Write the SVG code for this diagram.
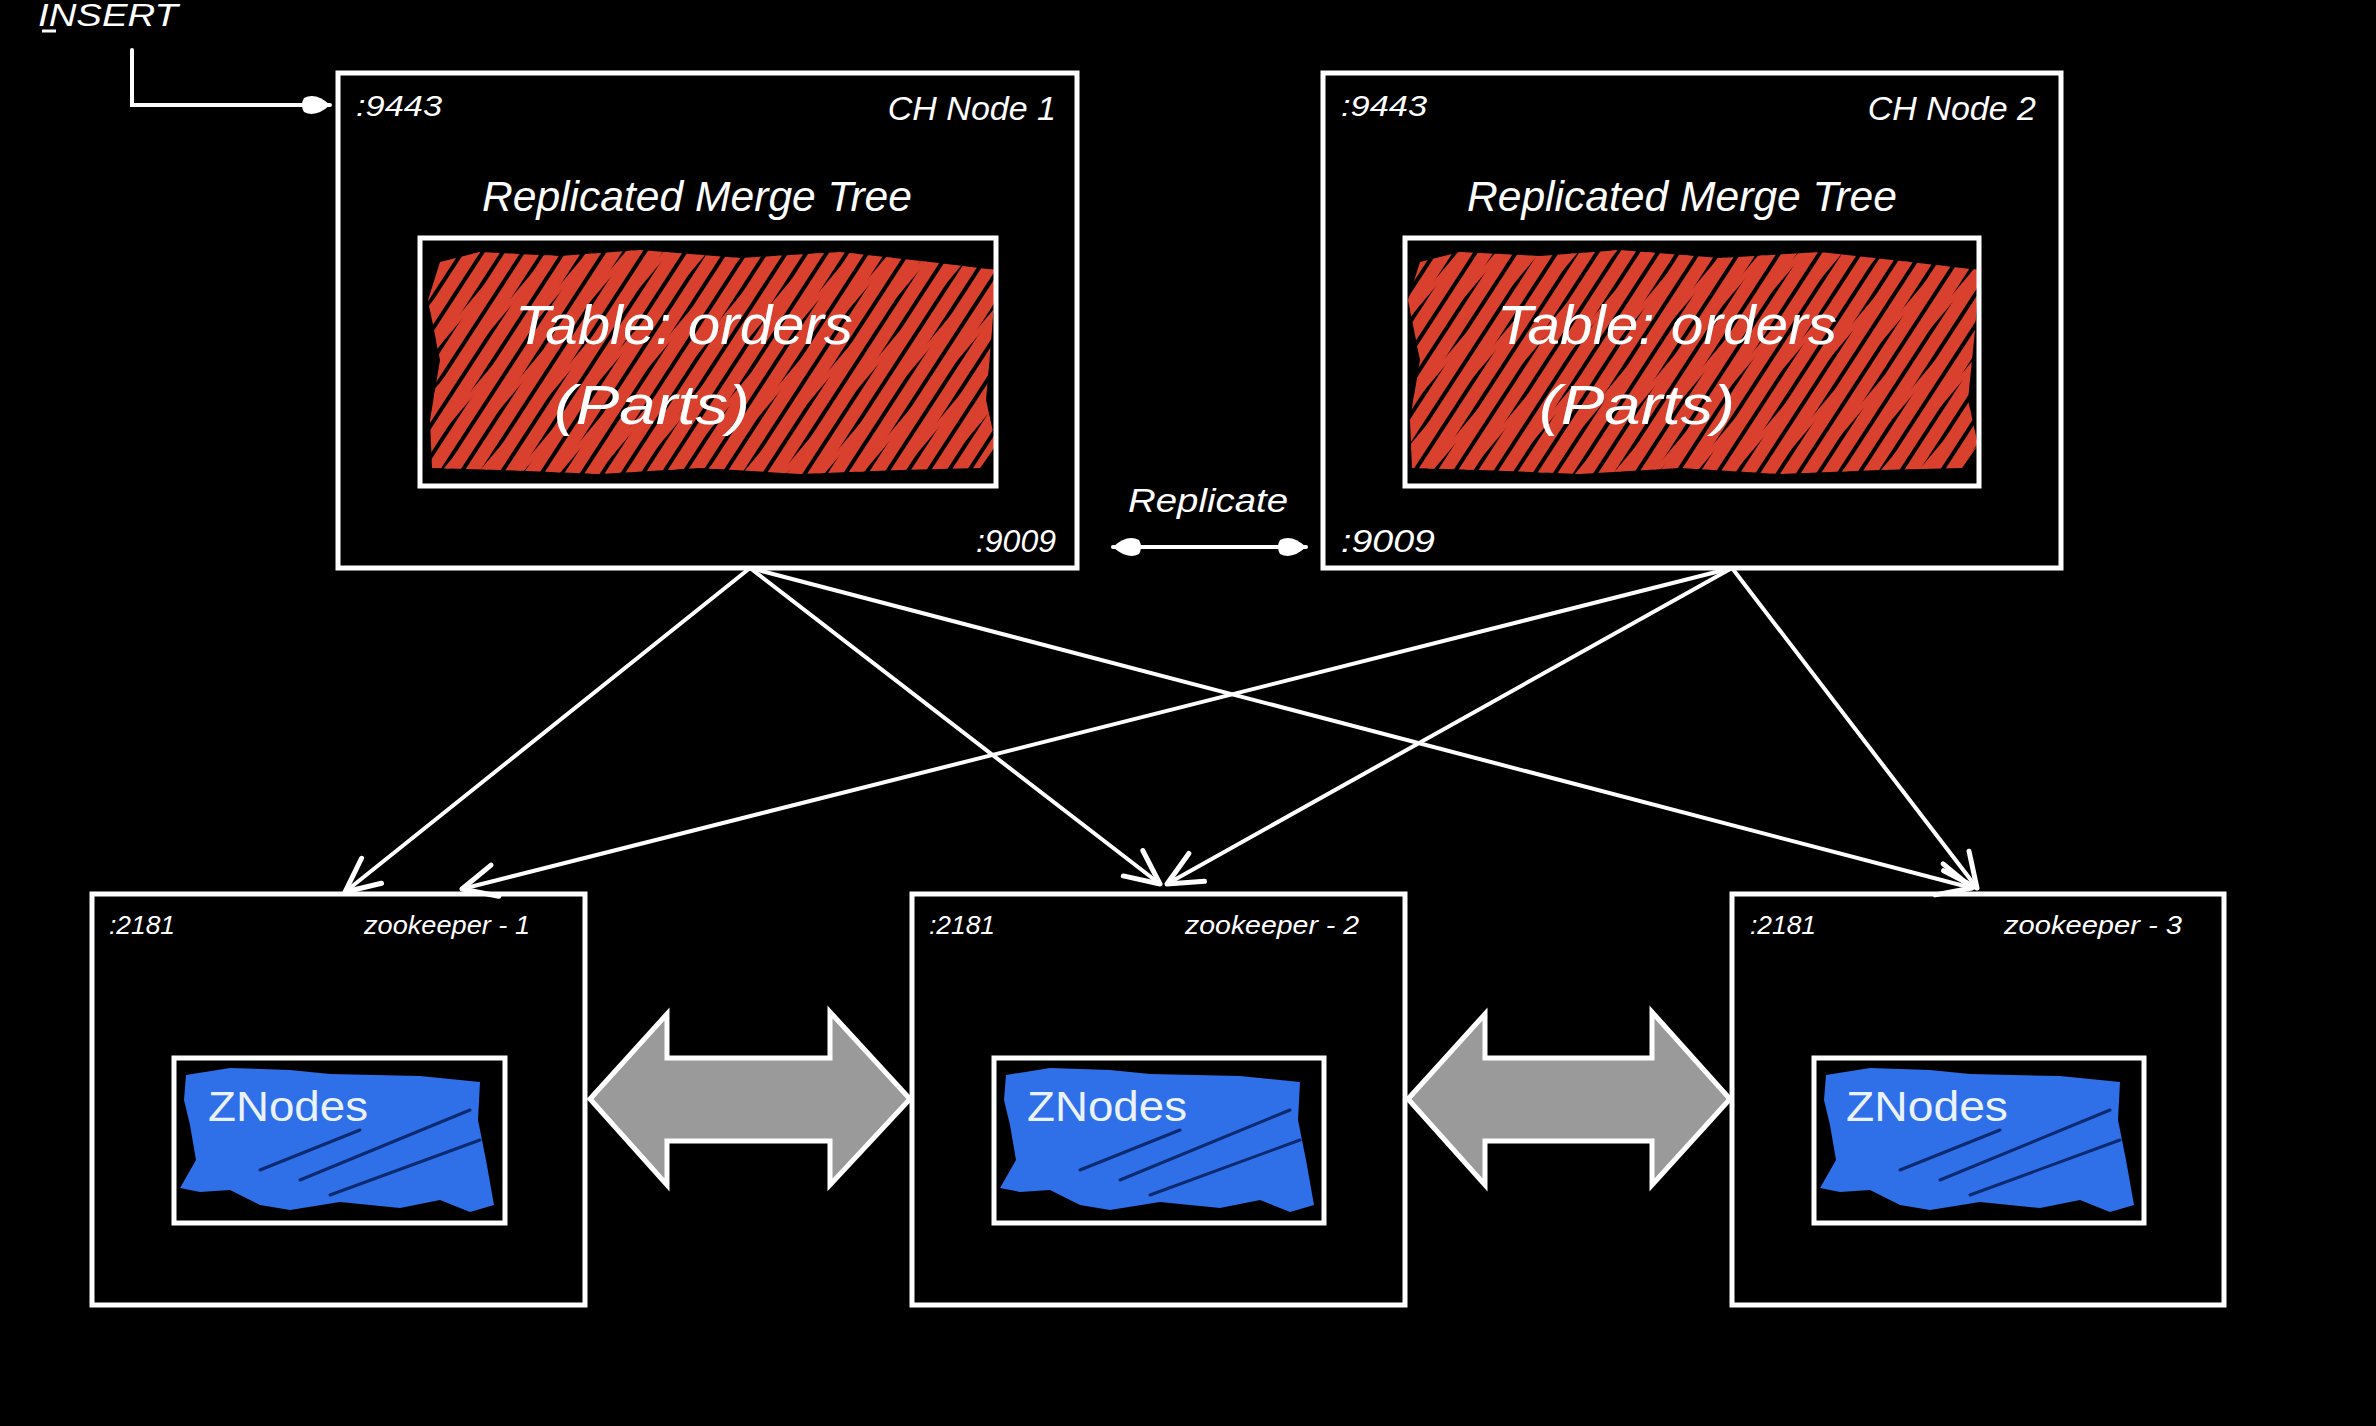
<svg xmlns="http://www.w3.org/2000/svg" width="2376" height="1426" viewBox="0 0 2376 1426">
<defs>
<style>
.box{fill:none;stroke:#fff;stroke-width:5}
.t{fill:#fff;font-family:"Liberation Sans",Arial,sans-serif;font-style:italic}
.zn{fill:#eaf2ff;font-family:"Liberation Sans",Arial,sans-serif;font-style:normal}
.conn{fill:none;stroke:#fff;stroke-width:4;stroke-linecap:round}
.big{fill:#9a9a9a;stroke:#fff;stroke-width:5;stroke-linejoin:miter}
.blue{fill:#2f6fe8}
.bl{stroke:#0d2a70;stroke-width:3;fill:none;stroke-linecap:round}
</style>
<pattern id="hatch" width="17" height="17" patternUnits="userSpaceOnUse" patternTransform="rotate(33)">
<rect width="17" height="17" fill="#000"/>
<rect x="0" y="0" width="13" height="17" fill="#d9402d"/>
</pattern>
<pattern id="hatch2" width="29" height="29" patternUnits="userSpaceOnUse" patternTransform="rotate(40)">
<rect x="3" y="0" width="5" height="29" fill="#d9402d"/>
</pattern>
<marker id="chev" markerWidth="44" markerHeight="44" refX="40" refY="22" orient="auto" markerUnits="userSpaceOnUse">
<path d="M6,6 L40,22 L6,38" fill="none" stroke="#fff" stroke-width="5" stroke-linecap="round" stroke-linejoin="round"/>
</marker>
<marker id="blob" markerWidth="36" markerHeight="30" refX="30" refY="15" orient="auto" markerUnits="userSpaceOnUse">
<path d="M4,8 Q16,2 30,15 Q16,28 4,22 Q0,15 4,8 Z" fill="#fff"/>
</marker>
<marker id="blobS" markerWidth="36" markerHeight="30" refX="30" refY="15" orient="auto-start-reverse" markerUnits="userSpaceOnUse">
<path d="M4,8 Q16,2 30,15 Q16,28 4,22 Q0,15 4,8 Z" fill="#fff"/>
</marker>
</defs>
<rect width="2376" height="1426" fill="#000"/>

<g id="insert">
<text class="t" x="38" y="26" font-size="32" textLength="140" lengthAdjust="spacingAndGlyphs">INSERT</text>
<line x1="42" y1="31" x2="56" y2="31" stroke="#fff" stroke-width="3"/>
</g>

<g id="ch-node-1">
<rect class="box" x="338" y="73" width="739" height="495"/>
<text class="t" x="356" y="116" font-size="30" textLength="86" lengthAdjust="spacingAndGlyphs">:9443</text>
<text class="t" x="1056" y="120" font-size="34" text-anchor="end">CH Node 1</text>
<text class="t" x="697" y="211" font-size="42" text-anchor="middle" textLength="430" lengthAdjust="spacingAndGlyphs">Replicated Merge Tree</text>
<polygon points="440,262 480,252 560,256 640,250 740,258 840,252 930,262 996,270 992,330 986,400 996,445 980,468 900,470 800,474 700,468 600,474 500,470 432,468 430,420 440,360 428,300" fill="url(#hatch)"/>
<polygon points="440,262 480,252 560,256 640,250 740,258 840,252 930,262 996,270 992,330 986,400 996,445 980,468 900,470 800,474 700,468 600,474 500,470 432,468 430,420 440,360 428,300" fill="url(#hatch2)"/>
<rect class="box" x="420" y="238" width="576" height="248"/>
<text class="t" x="684" y="344" font-size="56" text-anchor="middle" textLength="338" lengthAdjust="spacingAndGlyphs">Table: orders</text>
<text class="t" x="652" y="424" font-size="56" text-anchor="middle" textLength="196" lengthAdjust="spacingAndGlyphs">(Parts)</text>
<text class="t" x="1056" y="552" font-size="32" text-anchor="end">:9009</text>
</g>

<g id="ch-node-2">
<rect class="box" x="1323" y="73" width="738" height="495"/>
<text class="t" x="1341" y="116" font-size="30" textLength="86" lengthAdjust="spacingAndGlyphs">:9443</text>
<text class="t" x="2036" y="120" font-size="34" text-anchor="end">CH Node 2</text>
<text class="t" x="1682" y="211" font-size="42" text-anchor="middle" textLength="430" lengthAdjust="spacingAndGlyphs">Replicated Merge Tree</text>
<polygon points="1420,262 1460,252 1540,256 1620,250 1720,258 1820,252 1910,262 1979,270 1975,330 1968,400 1978,445 1962,468 1880,470 1780,474 1680,468 1580,474 1480,470 1412,468 1410,420 1420,360 1408,300" fill="url(#hatch)"/>
<polygon points="1420,262 1460,252 1540,256 1620,250 1720,258 1820,252 1910,262 1979,270 1975,330 1968,400 1978,445 1962,468 1880,470 1780,474 1680,468 1580,474 1480,470 1412,468 1410,420 1420,360 1408,300" fill="url(#hatch2)"/>
<rect class="box" x="1405" y="238" width="574" height="248"/>
<text class="t" x="1667" y="344" font-size="56" text-anchor="middle" textLength="340" lengthAdjust="spacingAndGlyphs">Table: orders</text>
<text class="t" x="1637" y="424" font-size="56" text-anchor="middle" textLength="196" lengthAdjust="spacingAndGlyphs">(Parts)</text>
<text class="t" x="1341" y="552" font-size="32" textLength="94" lengthAdjust="spacingAndGlyphs">:9009</text>
</g>

<g id="zookeeper-1">
<rect class="box" x="92" y="894" width="493" height="411"/>
<text class="t" x="109" y="934" font-size="26" textLength="66" lengthAdjust="spacingAndGlyphs">:2181</text>
<text class="t" x="530" y="934" font-size="26" text-anchor="end" textLength="166" lengthAdjust="spacingAndGlyphs">zookeeper - 1</text>
<polygon class="blue" points="186,1075 230,1068 290,1070 330,1074 420,1076 480,1082 478,1120 486,1160 494,1205 470,1212 440,1200 400,1208 340,1202 290,1210 260,1205 230,1190 200,1192 180,1188 196,1160 190,1125 184,1100"/>
<path class="bl" d="M300,1180 L470,1110 M330,1195 L480,1140 M260,1170 L360,1130"/>
<rect class="box" x="174" y="1058" width="331" height="165"/>
<text class="zn" x="288" y="1121" font-size="42" text-anchor="middle" textLength="160" lengthAdjust="spacingAndGlyphs">ZNodes</text>
</g>

<g id="zookeeper-2">
<rect class="box" x="912" y="894" width="493" height="411"/>
<text class="t" x="929" y="934" font-size="26" textLength="66" lengthAdjust="spacingAndGlyphs">:2181</text>
<text class="t" x="1359" y="934" font-size="26" text-anchor="end" textLength="174" lengthAdjust="spacingAndGlyphs">zookeeper - 2</text>
<polygon class="blue" points="1006,1075 1050,1068 1110,1070 1150,1074 1240,1076 1300,1082 1298,1120 1306,1160 1314,1205 1290,1212 1260,1200 1220,1208 1160,1202 1110,1210 1080,1205 1050,1190 1020,1192 1000,1188 1016,1160 1010,1125 1004,1100"/>
<path class="bl" d="M1120,1180 L1290,1110 M1150,1195 L1300,1140 M1080,1170 L1180,1130"/>
<rect class="box" x="994" y="1058" width="330" height="165"/>
<text class="zn" x="1107" y="1121" font-size="42" text-anchor="middle" textLength="160" lengthAdjust="spacingAndGlyphs">ZNodes</text>
</g>

<g id="zookeeper-3">
<rect class="box" x="1732" y="894" width="492" height="411"/>
<text class="t" x="1750" y="934" font-size="26" textLength="66" lengthAdjust="spacingAndGlyphs">:2181</text>
<text class="t" x="2182" y="934" font-size="26" text-anchor="end" textLength="178" lengthAdjust="spacingAndGlyphs">zookeeper - 3</text>
<polygon class="blue" points="1826,1075 1870,1068 1930,1070 1970,1074 2060,1076 2120,1082 2118,1120 2126,1160 2134,1205 2110,1212 2080,1200 2040,1208 1980,1202 1930,1210 1900,1205 1870,1190 1840,1192 1820,1188 1836,1160 1830,1125 1824,1100"/>
<path class="bl" d="M1940,1180 L2110,1110 M1970,1195 L2120,1140 M1900,1170 L2000,1130"/>
<rect class="box" x="1814" y="1058" width="330" height="165"/>
<text class="zn" x="1927" y="1121" font-size="42" text-anchor="middle" textLength="162" lengthAdjust="spacingAndGlyphs">ZNodes</text>
</g>

<g id="connectors">
<path class="conn" d="M132,50 L132,105 L330,105" marker-end="url(#blob)"/>
<line class="conn" x1="1113" y1="547" x2="1306" y2="547" marker-start="url(#blobS)" marker-end="url(#blob)"/>
<text class="t" x="1208" y="512" font-size="34" text-anchor="middle" textLength="160" lengthAdjust="spacingAndGlyphs">Replicate</text>
<line class="conn" x1="750" y1="568" x2="345" y2="892" marker-end="url(#chev)"/>
<line class="conn" x1="750" y1="568" x2="1160" y2="884" marker-end="url(#chev)"/>
<line class="conn" x1="750" y1="568" x2="1972" y2="888" marker-end="url(#chev)"/>
<line class="conn" x1="1732" y1="568" x2="462" y2="889" marker-end="url(#chev)"/>
<line class="conn" x1="1732" y1="568" x2="1167" y2="884" marker-end="url(#chev)"/>
<line class="conn" x1="1732" y1="568" x2="1977" y2="888" marker-end="url(#chev)"/>
<polygon class="big" points="590,1099 667,1014 667,1058 830,1058 830,1012 910,1099 830,1185 830,1141 667,1141 667,1185"/>
<polygon class="big" points="1408,1099 1485,1014 1485,1058 1652,1058 1652,1012 1730,1099 1652,1185 1652,1141 1485,1141 1485,1185"/>
</g>
</svg>
